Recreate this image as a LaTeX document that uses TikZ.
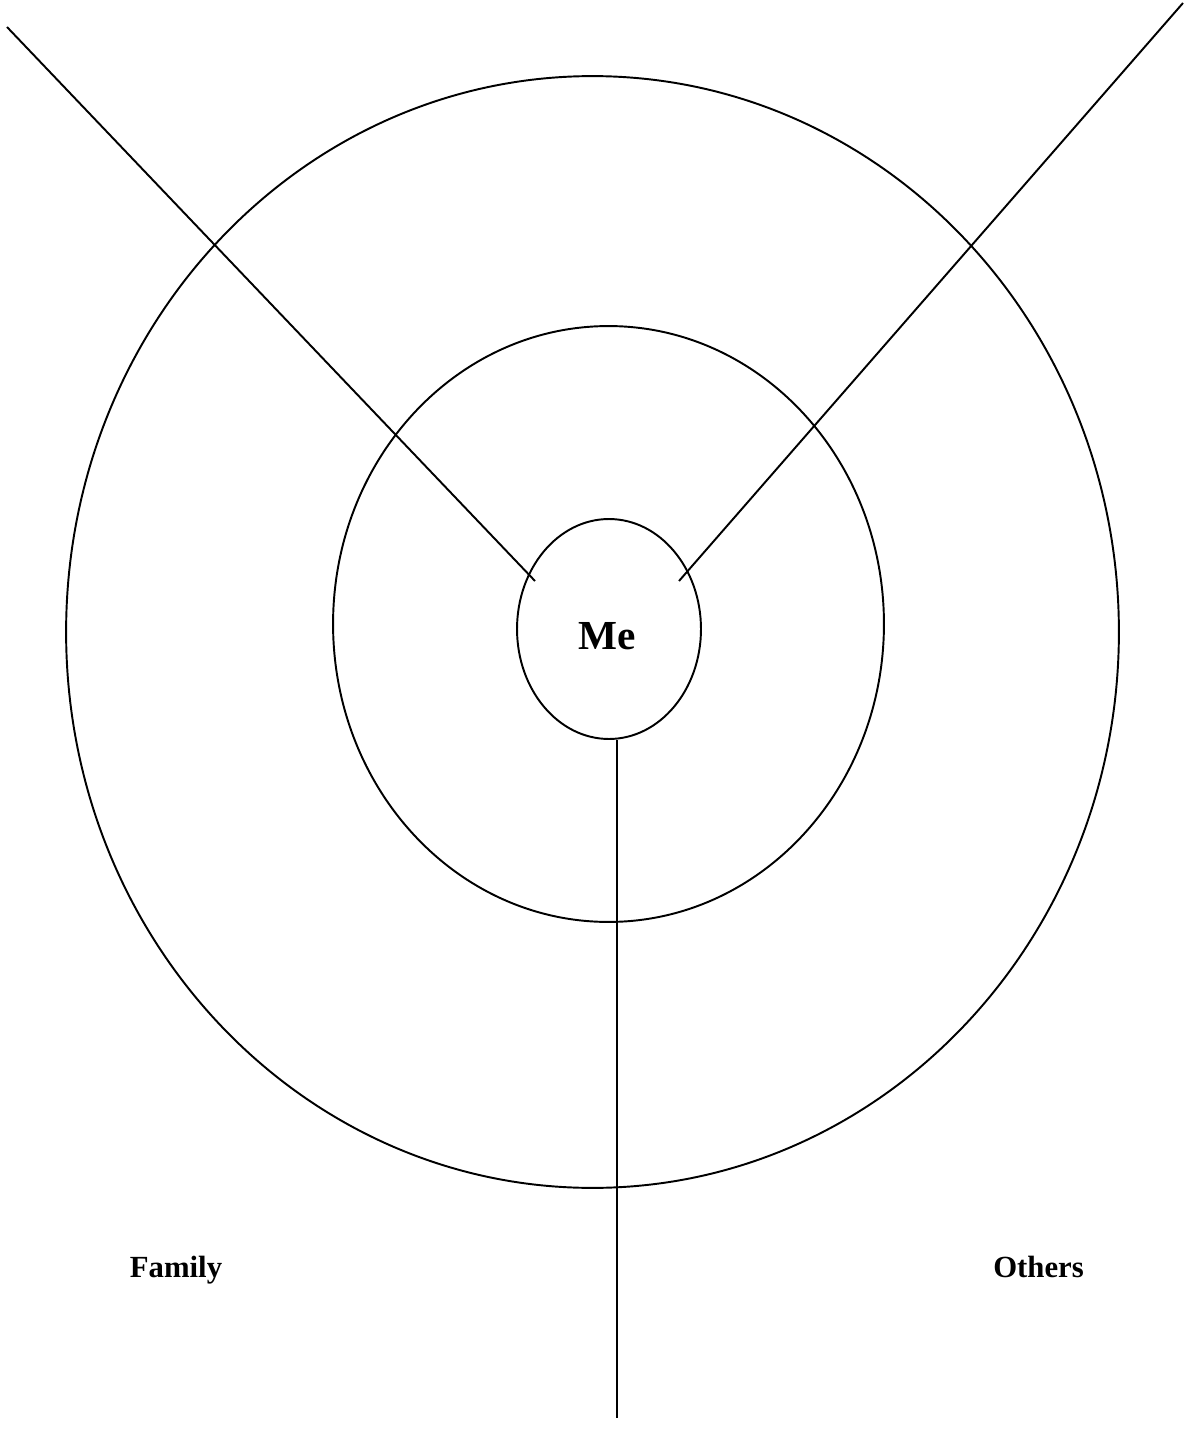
\documentclass[tikz,border=0pt]{standalone}
\usepackage{fontspec}
\setmainfont{Liberation Serif}
\usepackage{tikz}
\usetikzlibrary{positioning}
\usetikzlibrary{shapes.geometric}

\begin{document}
\begin{tikzpicture}[x=0.02cm, y=-0.02cm,
ring/.style={ellipse, draw=black, line width=1.1pt, inner sep=0pt},
spoke/.style={line width=1.1pt},
Lname/.style={font=\fontsize{17.5}{21}\selectfont\bfseries, anchor=base}
]
\useasboundingbox (0,0) rectangle (1186,1456);
%Nodes
\node[ring, minimum width=21.06cm, minimum height=22.24cm] (R3) at (592.5,632) {};
\node[ring, minimum width=11.02cm, minimum height=11.92cm] (R2) at (608.5,624) {};
\node[ring, minimum width=3.68cm, minimum height=4.4cm] (me) at (609,629) {};
\node[font=\fontsize{23.5}{28}\selectfont\bfseries, anchor=base] (Me) at (607,649) {Me};

\node[Lname] (fam) at (176,1277) {Family};
\node[Lname] (oth) at (1038.5,1277) {Others};

\coordinate (tl) at (7,27);
\coordinate (tlin) at (535,581);
\coordinate (tr) at (1183,3);
\coordinate (trin) at (679,581);
\coordinate (bot) at (617,1418);

%Lines
\draw[spoke] (tl) -- (tlin);
\draw[spoke] (tr) -- (trin);
\draw[spoke] (bot |- me.south) -- (bot);
\end{tikzpicture}
\end{document}
